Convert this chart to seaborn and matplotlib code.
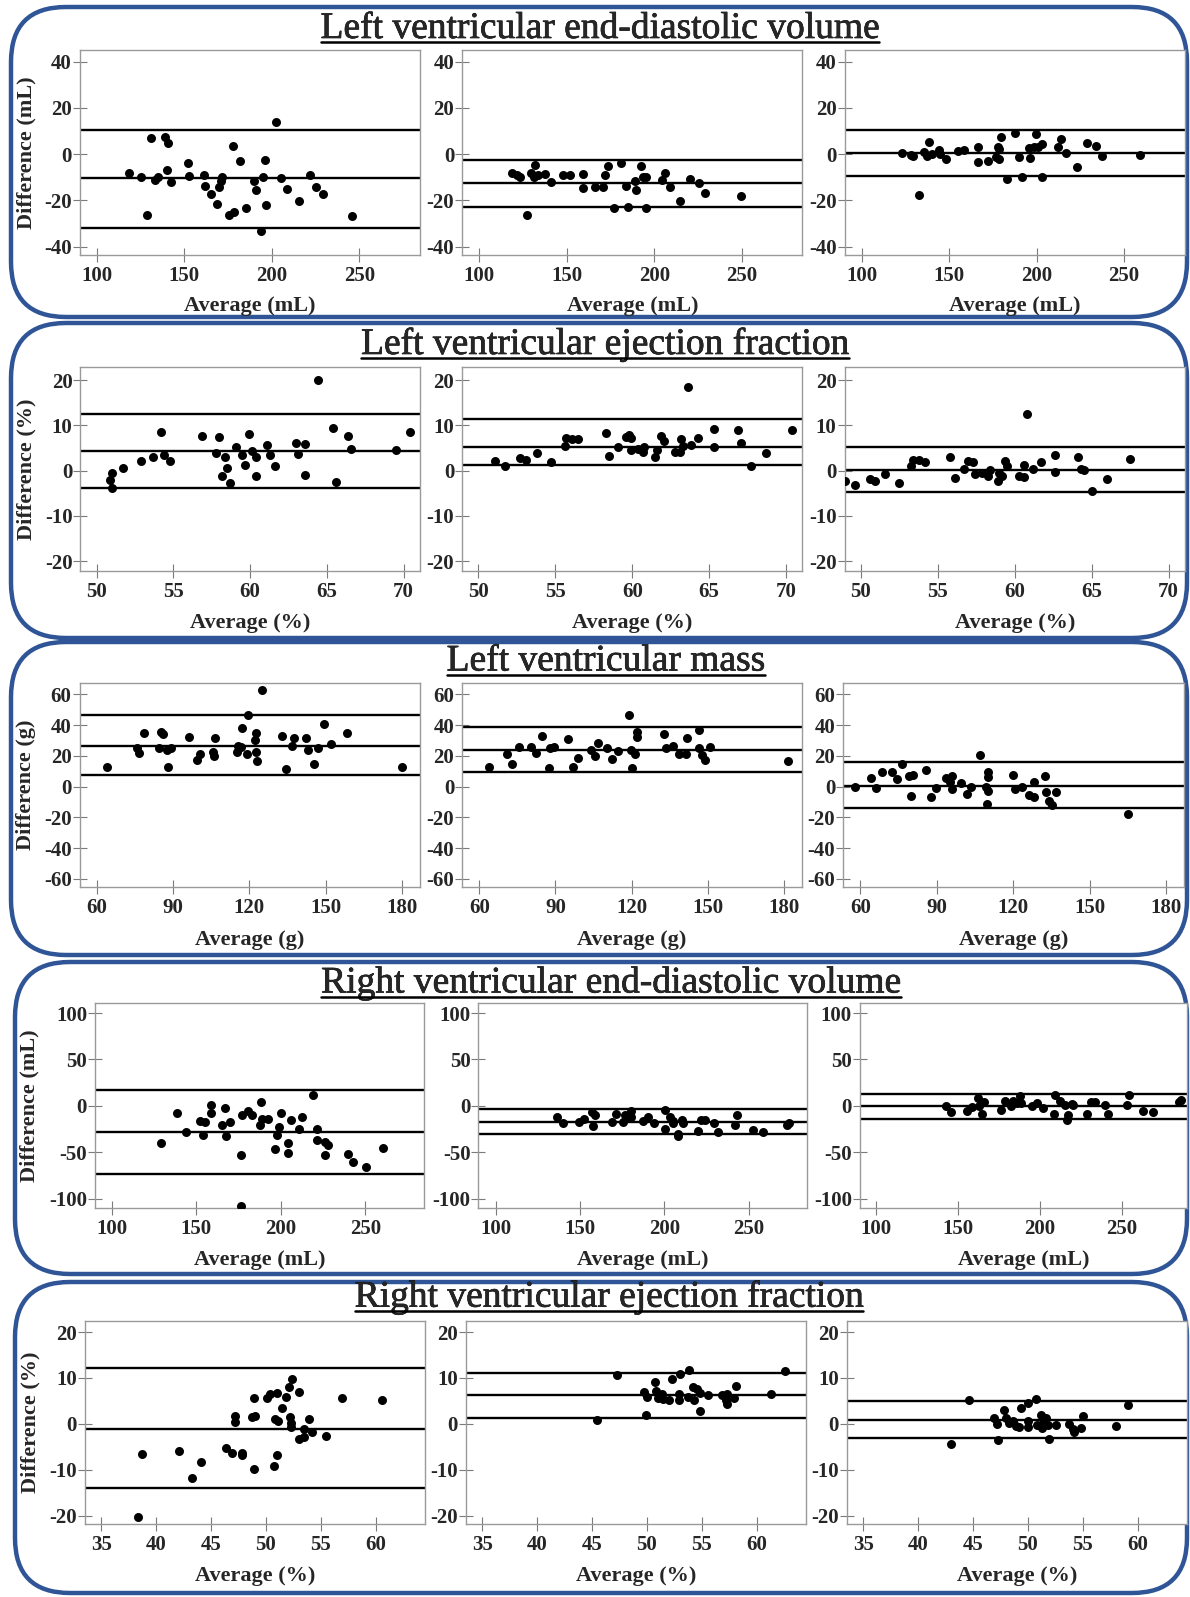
import numpy as np
import pandas as pd
import matplotlib
matplotlib.use("Agg")
import matplotlib.pyplot as plt
import matplotlib.patheffects as pe
import seaborn as sns
from matplotlib.patches import FancyBboxPatch

W, H = 1190, 1597
sns.set_style("ticks")
plt.rcParams['font.family'] = ['Liberation Serif', 'DejaVu Serif']
plt.rcParams['axes.unicode_minus'] = False

# ---------------- data ----------------
titles = ["Left ventricular end-diastolic volume",
          "Left ventricular ejection fraction",
          "Left ventricular mass",
          "Right ventricular end-diastolic volume",
          "Right ventricular ejection fraction"]
xlabels = ["Average (mL)", "Average (%)", "Average (g)", "Average (mL)", "Average (%)"]
ylabels = ["Difference (mL)", "Difference (%)", "Difference (g)", "Difference (mL)", "Difference (%)"]
xticks_rows = [[100, 150, 200, 250], [50, 55, 60, 65, 70], [60, 90, 120, 150, 180],
               [100, 150, 200, 250], [35, 40, 45, 50, 55, 60]]
yticks_rows = [[-40, -20, 0, 20, 40], [-20, -10, 0, 10, 20], [-60, -40, -20, 0, 20, 40, 60],
               [-100, -50, 0, 50, 100], [-20, -10, 0, 10, 20]]

# Row 1: LVEDV
lvedv_a_x = [118.6,125,131,133.3,135,128.5,138.8,140.9,140.3,142.7,152.3,152.8,161,161.6,165,168.5,170,171.6,171,175.5,178.6,178,181.9,185,189.6,190.9,193.7,195.2,195.9,196.6,202.5,205.5,208.8,215.6,221.7,225.2,229.4,245.6]
lvedv_a_y = [-8.1,-9.8,6.8,-11,-9.8,-26.5,7.2,5,-6.9,-12.2,-4,-9.5,-9,-13.7,-17.3,-21.6,-14,-10,-11.5,-26.2,-24.9,3.3,-3,-23.2,-11.5,-15.3,-33.3,-10,-2.6,-22.2,13.7,-10.2,-15.1,-20.3,-9.1,-14.1,-17.3,-26.9]
lvedv_a_lines = [10.4, -10.5, -31.8]
lvedv_b_x = [118.6,121.5,123,127,129.4,131.8,131.4,133.4,137.3,141,147.8,151.6,159.2,159.2,166.4,171.9,173.5,170.8,177,181.1,184,185.1,189,189.4,192.7,193.8,195.5,195.4,204.3,206.3,209.2,215,220.5,225.8,229.3,249.8]
lvedv_b_y = [-8.1,-9.2,-9.7,-26.4,-8.2,-4.8,-10.1,-9.1,-8.4,-12,-8.9,-8.9,-8.4,-14.8,-14.1,-9.1,-5,-14.4,-23.1,-3.9,-13.8,-22.8,-11.5,-15.4,-5,-9.7,-23.5,-9.7,-11.2,-8.2,-14.4,-20.2,-10.8,-12.5,-17,-17.9]
lvedv_b_lines = [-2.4, -12.5, -22.8]
lvedv_c_x = [123,128,129.5,132.8,135.6,137.6,138.7,140,144.2,144.8,148.1,155.1,158.6,166.7,166.7,172.2,177,178.1,178.3,178.7,179.8,183.1,187.5,190.1,191.4,195.8,196.2,198.4,199.9,201,202.8,202.8,212,213.7,216.6,222.9,228.6,234,237.3,258.8]
lvedv_c_y = [0.3,-0.4,-0.7,-17.8,0.7,-0.7,5.1,0,1.7,0,-1.9,1.4,1.9,2.9,-3.3,-2.9,-1.4,2.9,-2.2,2.2,7.2,-10.6,9,-1.2,-9.9,2.5,-1.7,2.9,8.7,2.9,4.3,-9.7,3.2,6.5,0.4,-5.4,4.8,3.3,-0.7,-0.3]
lvedv_c_lines = [10.6, 0.3, -9.4]

# Row 2: LVEF
lvef_a_x = [51,50.9,51,51.7,52.9,53.7,54.2,54.4,54.8,56.9,57.8,58,58.2,58.4,58.5,58.7,59.1,59.5,59.7,59.9,60.1,60.4,60.4,61.1,61.3,61.6,63,63.1,63.6,63.6,64.4,65.4,65.6,66.4,66.6,69.5,70.4]
lvef_a_y = [-0.5,-2.1,-3.9,0.5,2.1,3,8.5,3.5,2.1,7.6,3.9,7.5,-1.3,3,0.5,-2.8,5.2,3.5,1.3,8.1,4.4,3,-1.1,5.7,3.5,1,6.1,3.7,5.9,-1,20.1,9.4,-2.6,7.6,4.8,4.6,8.6]
lvef_a_lines = [12.4, 4.3, -3.9]
lvef_b_x = [51.1,51.7,52.7,53.1,53.8,54.7,55.6,55.7,56.1,56.5,58.3,58.5,59.1,59.6,59.8,59.9,59.9,60.4,60.7,60.8,61.5,61.6,61.9,62.1,62.8,63.1,63.2,63.3,63.6,63.8,64.3,65.3,65.3,66.9,67.1,67.7,68.7,70.4]
lvef_b_y = [2.2,1.1,2.7,2.3,3.8,1.8,5.5,7.1,6.9,6.9,8.2,3.3,5.3,7.5,7.8,7.1,4.5,4.7,4,5.2,3.1,4.6,7.6,6.5,4,4,6.9,5.5,18.5,5.7,7.3,9.2,5.2,8.9,6,1.1,3.9,8.9]
lvef_b_lines = [11.3, 5.3, 1.3]
lvef_c_x = [49,49.6,50.6,50.9,51.6,52.5,53.3,53.4,53.8,54.2,55.8,56.1,56.7,57,57.3,57.4,57.9,58.3,58.4,58.9,59,59.2,59.4,59.5,60.3,60.6,60.6,60.8,61.2,61.7,62.6,62.6,64.1,64.3,64.5,65,66,67.5]
lvef_c_y = [-2.2,-3.1,-1.8,-2.3,-0.7,-2.7,1.1,2.3,2.3,2,3,-1.7,0.4,2.2,1.9,-0.7,-0.5,-1.2,0.1,-2.4,-0.5,-1.1,2.2,1.1,-1.1,1.3,-1.4,12.4,0.4,1.8,3.5,-0.4,2.9,0.4,0.2,-4.5,-1.9,2.5]
lvef_c_lines = [5.2, 0.1, -4.8]

# Row 3: LV mass
lvm_a_x = [64.2,75.8,76.7,78.5,84.5,85.3,86,87.8,88,89.3,96.1,99.5,100.6,105.9,106.3,106.6,115,115.6,116.8,117.3,119.1,119.5,122.1,122.6,122.6,122.9,124.8,132.9,134.4,136.7,137.4,142.4,143.2,145.4,146.9,149.2,152.2,158.2,180]
lvm_a_y = [12.9,24.8,21.6,35,25.3,35.6,33.9,23.7,12.5,25.3,32.4,17.3,21,22.3,19.9,31.7,22.7,26.4,25.9,37.8,21.5,46.4,30.6,35,22.8,16.7,62.6,33,11.4,26.2,31.9,31.3,23.7,14.5,24.8,40.6,27.4,35,12.5]
lvm_a_lines = [46.8, 26.5, 7.6]
lvm_b_x = [63.9,71,72.9,75.8,80.3,82.5,84.9,87.8,87.5,89.3,95,96.9,99,104.2,105.7,106.8,110.2,112.2,114.7,118.9,120,119.7,121.5,122,122.2,132.9,133.5,136.2,138.7,141.3,141.9,146.7,146.7,147.7,148.8,150.8,181.5]
lvm_b_y = [12.9,20.9,14.6,25.9,25.9,22,33,24.8,11.8,25.9,30.9,12.9,18.3,23.7,19.8,28.1,24.8,17.9,23,46.8,11.8,23.7,21.5,32.4,35.2,33.9,25.3,26.6,21.5,21.5,31.3,36.7,24.8,20.5,17.3,25.9,16.8]
lvm_b_lines = [38.4, 23.7, 9.2]
lvm_c_x = [57.9,64.2,66.2,68.3,72.5,74.4,76.5,79.2,80.7,79.7,85.6,87.9,89.7,93.5,95,96.1,96.1,99.4,101.7,103.6,106.9,109.2,109.5,110.2,110.2,110.2,119.7,120.7,123.4,126.1,128.2,128.2,132.4,132.7,134.2,135.1,136.6,165.1]
lvm_c_y = [0,5.9,-0.7,9.4,9.2,4.8,14.6,6.6,7.6,-5.9,10.9,-6.6,-1.1,5.5,3.3,6.6,-1.5,2.2,-5,0,20.7,0,-11.6,9.8,6.1,-2.6,7.6,-1.5,0,-5.5,-6.6,3.3,7,-3.7,-9.4,-12,-3.7,-17.9]
lvm_c_lines = [15.7, 0.7, -13.8]

# Row 4: RVEDV
rvedv_a_x = [129.4,138.5,143.7,152,153.8,155.4,158.4,158.8,165.2,167,167.4,169.7,176.5,177,176.5,180.5,182.8,187.8,188.5,188.9,192.3,196.8,197.5,199.1,200.2,204.1,204.1,205.9,210.9,212.2,218.8,221.3,221.3,226.2,226.2,228.1,239.4,242.8,250.5,260.6]
rvedv_a_y = [-40,-8.3,-28.8,-16.2,-31,-18,-8.3,0.4,-20.9,-2.2,-32.8,-18,-53.3,-10.1,-108.5,-5.8,-10.1,-20.2,3.6,-14.4,-14.4,-46.8,-31.7,-22.7,-7.6,-40,-50.5,-14.8,-24.5,-11.9,11.5,-24.5,-37.1,-52.6,-38.9,-41.8,-52.3,-60.5,-65.9,-45.4]
rvedv_a_lines = [16.6, -28.1, -73.2]
rvedv_b_x = [136.3,139.7,149.2,152.6,157,158.7,157.8,169.1,171.3,175.2,176.8,178.6,180,180.4,187.2,190.4,193.8,200.6,200.1,203.6,205.3,205.3,208.1,208.1,210.3,210.8,219.8,221.7,223.9,229.6,231.9,243.2,242.1,252.3,258.4,272.7,273.8]
rvedv_b_y = [-11.9,-18.4,-18,-14.4,-6.5,-10.1,-21.6,-18,-9,-17.3,-10.1,-11.9,-5.4,-11.9,-16.6,-12.6,-19.1,-4.7,-25.2,-12.6,-16.6,-19.1,-29.9,-32.4,-15.5,-18.4,-27,-14.8,-14.8,-19.1,-28.1,-10.1,-20.2,-26.3,-28.8,-20.2,-18.4]
rvedv_b_lines = [-4, -18, -30.6]
rvedv_c_x = [142.3,145.8,155.1,158.6,162.1,162.8,164.4,165.6,176,178.4,182.3,183.7,186,187.7,188.4,195.1,198.1,201.6,209.3,208.6,212.1,215.1,216.3,217.2,219.5,220.2,228.4,231.2,233.5,239.5,241.2,252.8,254,262.6,269.1,284.9,286]
rvedv_c_y = [-0.7,-7.2,-5.4,-1.4,8.3,-0.7,-9,3.6,-4.3,4.7,-0.7,4.7,2.9,10.1,2.9,-0.7,2.9,-2.5,11.9,-9,4.7,1.1,-15.1,-9.7,2.2,0.4,-9,4,4,0.4,-9,0.4,11.2,-5.4,-7.2,3.6,5.8]
rvedv_c_lines = [12.6, -0.7, -14]

# Row 5: RVEF
rvef_a_x = [38.3,38.7,42.1,43.3,44.1,46.4,46.9,47.2,47.2,47.8,47.8,48.7,48.9,48.9,49,50.1,50.4,50.7,50.8,51,51,51.1,51.5,51.8,52.1,52.2,52.3,52.4,52.3,53,53,53.5,53.5,53.9,54.2,55.5,56.9,60.6]
rvef_a_y = [-20.3,-6.5,-5.9,-11.7,-8.2,-5.2,-6.3,1.8,0.4,-6.7,-6.3,1.4,5.6,-9.8,1.8,5.7,6.4,-9.1,1.1,6.7,-6.7,0.7,3.5,5.8,8.1,1.4,0.1,9.8,-0.7,7,-3.4,-2.9,-1.2,1.1,-1.8,-2.7,5.7,5.1]
rvef_a_lines = [12.2, -1.1, -13.9]
rvef_b_x = [45.4,47.3,49.7,50,49.9,50.7,50.8,51,51.4,51.5,52,52.3,52.9,52.9,53,53.7,53.8,54.2,54.3,54.6,54.8,54.8,55.6,56.8,57.2,57.3,57.3,57.9,58.1,61.3,62.6]
rvef_b_y = [0.9,10.7,6.9,5.8,2,9.2,7.2,5.7,6.5,5.4,5.2,9.8,6.5,5.3,10.9,5.9,11.7,8.1,5.2,7.5,6.7,2.8,6.2,6.2,5.3,6.5,4.3,5.6,8.3,6.5,11.6]
rvef_b_lines = [11.1, 6.2, 1.3]
rvef_c_x = [43,44.6,46.9,47.2,47.3,47.8,48,48.3,48.6,48.9,49.2,49.4,50,50,50,50.7,50.8,51.2,51.3,51.4,51.6,51.8,51.9,52.6,53.7,54.1,54.2,54.8,55,58,59.1]
rvef_c_y = [-4.3,5.2,1.3,-0.1,-3.6,3.1,1.3,0.1,0.6,-0.5,-0.7,3.5,4.6,0.6,-0.7,5.5,-0.3,2,-0.9,0.2,1.3,-0.3,-3.3,-0.3,-0.1,-1.2,-1.8,-0.9,1.7,-0.5,4.2]
rvef_c_lines = [5, 0.9, -3.1]

panel_data = [
    [(lvedv_a_x, lvedv_a_y, lvedv_a_lines), (lvedv_b_x, lvedv_b_y, lvedv_b_lines), (lvedv_c_x, lvedv_c_y, lvedv_c_lines)],
    [(lvef_a_x, lvef_a_y, lvef_a_lines), (lvef_b_x, lvef_b_y, lvef_b_lines), (lvef_c_x, lvef_c_y, lvef_c_lines)],
    [(lvm_a_x, lvm_a_y, lvm_a_lines), (lvm_b_x, lvm_b_y, lvm_b_lines), (lvm_c_x, lvm_c_y, lvm_c_lines)],
    [(rvedv_a_x, rvedv_a_y, rvedv_a_lines), (rvedv_b_x, rvedv_b_y, rvedv_b_lines), (rvedv_c_x, rvedv_c_y, rvedv_c_lines)],
    [(rvef_a_x, rvef_a_y, rvef_a_lines), (rvef_b_x, rvef_b_y, rvef_b_lines), (rvef_c_x, rvef_c_y, rvef_c_lines)],
]

# ---------------- layout (pixels) ----------------
layout = [
    dict(box=(11, 7, 1187, 317), tbase=38, tx=600, ay=(50, 255),
         ax=[(79.6, 420.2), (462.3, 802.4), (844.5, 1185)],
         xlims=[(90.2, 284.8)] * 3, ylim=(-43.6, 45), xlb=311, ylx=26),
    dict(box=(11, 323, 1187, 638), tbase=354, tx=605, ay=(367, 571),
         ax=[(80.4, 420), (462.3, 802.4), (844.5, 1185)],
         xlims=[(48.95, 71.07)] * 3, ylim=(-22.2, 22.9), xlb=628, ylx=26),
    dict(box=(11, 642, 1187, 955), tbase=670.5, tx=606, ay=(683, 887),
         ax=[(79.6, 419.8), (462.3, 801.6), (843.3, 1184)],
         xlims=[(53.3, 187)] * 3, ylim=(-65.2, 67.3), xlb=945, ylx=26),
    dict(box=(15, 962, 1187, 1274), tbase=992.5, tx=611, ay=(1003, 1208),
         ax=[(95, 424), (478.4, 807.4), (859.8, 1187)],
         xlims=[(90.1, 284.6), (89.8, 284.7), (90, 289.6)], ylim=(-110.2, 110.8), xlb=1265, ylx=29),
    dict(box=(15, 1282, 1187, 1593), tbase=1306.7, tx=609, ay=(1321, 1524),
         ax=[(85, 425), (466, 806), (847, 1187)],
         xlims=[(33.5, 64.5)] * 3, ylim=(-21.8, 22.4), xlb=1581, ylx=30),
]

BLUE = "#2F5597"
fig = plt.figure(figsize=(W / 100, H / 100), dpi=100)
bg = fig.add_axes([0, 0, 1, 1])
bg.set_xlim(0, W)
bg.set_ylim(H, 0)
bg.axis('off')

title_objs = []
for r, L in enumerate(layout):
    x0, y0, x1, y1 = L['box']
    bg.add_patch(FancyBboxPatch((x0, y0), x1 - x0, y1 - y0,
                                boxstyle="round,pad=0,rounding_size=55",
                                fc='white', ec=BLUE, lw=3.2, zorder=1))
    t = bg.text(L['tx'], L['tbase'], titles[r], ha='center', va='baseline',
                fontsize=27, family=['Liberation Serif', 'DejaVu Serif'], zorder=5,
                path_effects=[pe.withStroke(linewidth=0.45, foreground='black')])
    title_objs.append((t, L['tbase']))
    ya, yb = L['ay']
    for c in range(3):
        xa, xb = L['ax'][c]
        ax = fig.add_axes([xa / W, 1 - yb / H, (xb - xa) / W, (yb - ya) / H])
        xs, ys, lines = panel_data[r][c]
        df = pd.DataFrame({'avg': xs, 'diff': ys})
        for v in lines:
            ax.axhline(v, color='black', lw=1.7, zorder=2)
        sns.scatterplot(data=df, x='avg', y='diff', ax=ax, color='black', s=42,
                        linewidth=0, legend=False, zorder=3)
        ax.set_xlim(*L['xlims'][c])
        ax.set_ylim(*L['ylim'])
        ax.set_xticks(xticks_rows[r])
        ax.set_yticks(yticks_rows[r])
        ax.set_xlabel('')
        ax.set_ylabel('')
        ax.tick_params(direction='inout', length=9.5, width=0.8, color='#7a7a7a',
                       labelsize=15, pad=1)
        ax.tick_params(axis='x', pad=3)
        for lbl in ax.get_xticklabels() + ax.get_yticklabels():
            lbl.set_fontweight('bold')
        for sp in ax.spines.values():
            sp.set_color('#9a9a9a')
            sp.set_linewidth(1.0)
        ax.set_facecolor('white')
        bg.text((xa + xb) / 2, L['xlb'], xlabels[r], ha='center', va='baseline',
                fontsize=16, fontweight='bold', zorder=5)
    bg.text(L['ylx'], (ya + yb) / 2, ylabels[r], rotation=90, ha='center', va='center',
            fontsize=16, fontweight='bold', zorder=5)

fig.canvas.draw()
rend = fig.canvas.get_renderer()
for t, base in title_objs:
    bb = t.get_window_extent(rend)
    bg.plot([bb.x0, bb.x1], [base + 4, base + 4], color='black', lw=1.8, zorder=5)

fig.savefig("out.png", dpi=100)
